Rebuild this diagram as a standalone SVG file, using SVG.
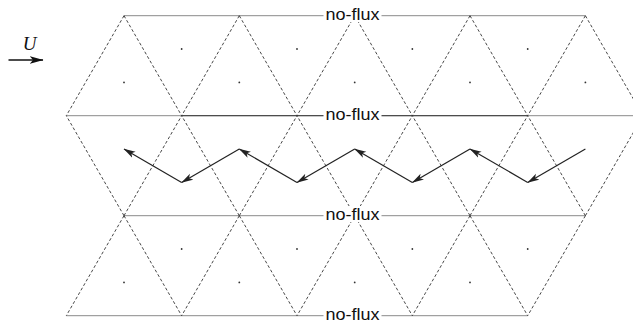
<svg xmlns="http://www.w3.org/2000/svg" width="633" height="324" viewBox="0 0 633 324">
<style>
.bnd{stroke:#8a8a8a;stroke-width:1;fill:none}
.bndd{stroke:#3a3a3a;stroke-width:1;fill:none}
.dash{stroke:#333;stroke-width:0.9;stroke-dasharray:3 2.2;fill:none}
.dot{fill:#333}
.lbl{font-family:"Liberation Sans",Arial,sans-serif;font-size:16px;fill:#111;text-anchor:middle}
.bg{fill:#fff}
.flow{stroke:#222;stroke-width:1.2;fill:none;marker-end:url(#ah)}
</style>
<defs>
<marker id="ah" viewBox="0 0 12 8" refX="11.5" refY="4" markerWidth="12" markerHeight="8" markerUnits="userSpaceOnUse" orient="auto">
<path d="M0,0.6 L12,4 L0,7.4 L3,4 z" fill="#222"/>
</marker>
<marker id="ahU" viewBox="0 0 14 9" refX="13.5" refY="4.5" markerWidth="14" markerHeight="9" markerUnits="userSpaceOnUse" orient="auto">
<path d="M0,0.5 L14,4.5 L0,8.5 L3.5,4.5 z" fill="#111"/>
</marker>
</defs>
<rect width="633" height="324" fill="#fff"/>

<g id="boundaries">
<line class="bnd" x1="124" y1="15.7" x2="585.4" y2="15.7"/>
<line class="bnd" x1="66.3" y1="115.7" x2="643" y2="115.7"/>
<line class="bndd" x1="181.65" y1="115.7" x2="527.7" y2="115.7"/>
<line class="bnd" x1="124" y1="215.7" x2="585.4" y2="215.7"/>
<line class="bnd" x1="66.3" y1="315.7" x2="527.7" y2="315.7"/>
</g>

<g id="mesh">
<path class="dash" d="M124,15.7 L66.3,115.7 M124,15.7 L181.65,115.7 M239.3,15.7 L181.65,115.7 M239.3,15.7 L297,115.7 M354.7,15.7 L297,115.7 M354.7,15.7 L412.35,115.7 M470,15.7 L412.35,115.7 M470,15.7 L527.7,115.7 M585.4,15.7 L527.7,115.7 M585.4,15.7 L643.05,115.7"/>
<path class="dash" d="M124,215.7 L66.3,115.7 M124,215.7 L181.65,115.7 M239.3,215.7 L181.65,115.7 M239.3,215.7 L297,115.7 M354.7,215.7 L297,115.7 M354.7,215.7 L412.35,115.7 M470,215.7 L412.35,115.7 M470,215.7 L527.7,115.7 M585.4,215.7 L527.7,115.7 M585.4,215.7 L643.05,115.7"/>
<path class="dash" d="M124,215.7 L66.3,315.7 M124,215.7 L181.65,315.7 M239.3,215.7 L181.65,315.7 M239.3,215.7 L297,315.7 M354.7,215.7 L297,315.7 M354.7,215.7 L412.35,315.7 M470,215.7 L412.35,315.7 M470,215.7 L527.7,315.7 M585.4,215.7 L527.7,315.7"/>
</g>

<g id="centroids">
<circle class="dot" cx="124" cy="82.4" r="0.9"/>
<circle class="dot" cx="239.3" cy="82.4" r="0.9"/>
<circle class="dot" cx="354.7" cy="82.4" r="0.9"/>
<circle class="dot" cx="470" cy="82.4" r="0.9"/>
<circle class="dot" cx="585.4" cy="82.4" r="0.9"/>
<circle class="dot" cx="181.65" cy="49" r="0.9"/>
<circle class="dot" cx="297" cy="49" r="0.9"/>
<circle class="dot" cx="412.35" cy="49" r="0.9"/>
<circle class="dot" cx="527.7" cy="49" r="0.9"/>
<circle class="dot" cx="124" cy="282.4" r="0.9"/>
<circle class="dot" cx="239.3" cy="282.4" r="0.9"/>
<circle class="dot" cx="354.7" cy="282.4" r="0.9"/>
<circle class="dot" cx="470" cy="282.4" r="0.9"/>
<circle class="dot" cx="181.65" cy="249" r="0.9"/>
<circle class="dot" cx="297" cy="249" r="0.9"/>
<circle class="dot" cx="412.35" cy="249" r="0.9"/>
<circle class="dot" cx="527.7" cy="249" r="0.9"/>
</g>

<g id="labels">
<g id="noflux1"><rect class="bg" x="323.5" y="6" width="58" height="16"/><text class="lbl" x="352.5" y="19.6" textLength="54" lengthAdjust="spacingAndGlyphs">no-flux</text></g>
<g id="noflux2"><rect class="bg" x="323.5" y="106" width="58" height="16"/><text class="lbl" x="352.5" y="119.6" textLength="54" lengthAdjust="spacingAndGlyphs">no-flux</text></g>
<g id="noflux3"><rect class="bg" x="323.5" y="206" width="58" height="16"/><text class="lbl" x="352.5" y="219.6" textLength="54" lengthAdjust="spacingAndGlyphs">no-flux</text></g>
<g id="noflux4"><rect class="bg" x="323.5" y="306" width="58" height="16"/><text class="lbl" x="352.5" y="319.6" textLength="54" lengthAdjust="spacingAndGlyphs">no-flux</text></g>
</g>

<g id="connectors">
<line class="flow" x1="585.4" y1="149" x2="527.7" y2="182.4"/>
<line class="flow" x1="527.7" y1="182.4" x2="470" y2="149"/>
<line class="flow" x1="470" y1="149" x2="412.35" y2="182.4"/>
<line class="flow" x1="412.35" y1="182.4" x2="354.7" y2="149"/>
<line class="flow" x1="354.7" y1="149" x2="297" y2="182.4"/>
<line class="flow" x1="297" y1="182.4" x2="239.3" y2="149"/>
<line class="flow" x1="239.3" y1="149" x2="181.65" y2="182.4"/>
<line class="flow" x1="181.65" y1="182.4" x2="124" y2="149"/>
</g>

<g id="velocity">
<text x="29.5" y="49.5" font-family="Liberation Serif,'Times New Roman',serif" font-style="italic" font-size="19" text-anchor="middle" fill="#111">U</text>
<line x1="8.5" y1="60" x2="43" y2="60" stroke="#111" stroke-width="1.6" marker-end="url(#ahU)"/>
</g>
</svg>
